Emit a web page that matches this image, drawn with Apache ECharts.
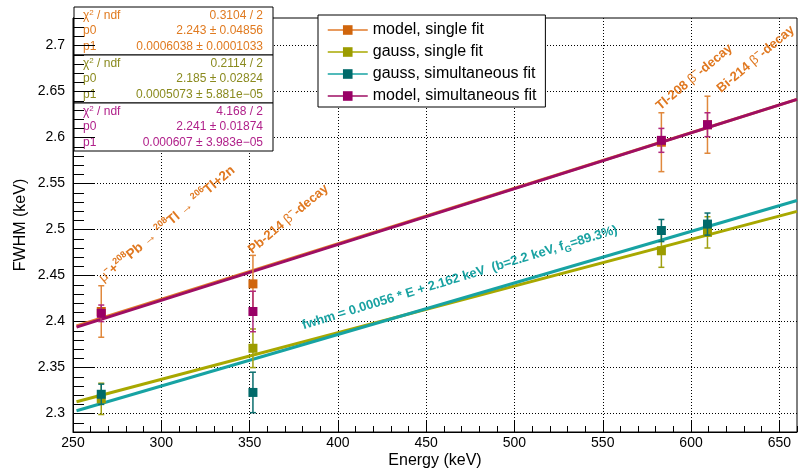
<!DOCTYPE html>
<html>
<head>
<meta charset="utf-8">
<script src="https://cdn.jsdelivr.net/npm/echarts@6/dist/echarts.min.js"></script>
<style>
html, body { margin: 0; padding: 0; background: #fff; }
#chart { width: 800px; height: 469px; }
</style>
</head>
<body>
<div id="chart"></div>
<script>
// ---- measured FWHM per gamma line ----
const energies = [266, 351.9, 583.2, 609.3];

const modelSingle    = [2.411, 2.441, 2.595, 2.614];
const modelSingleErr = [0.028, 0.031, 0.032, 0.031];
const gaussSingle    = [2.316, 2.371, 2.477, 2.497];
const gaussSingleErr = [0.017, 0.021, 0.018, 0.017];
const gaussSim       = [2.321, 2.323, 2.499, 2.506];
const gaussSimErr    = [0.011, 0.022, 0.012, 0.012];
const modelSim       = [2.409, 2.411, 2.597, 2.614];
const modelSimErr    = [0.009, 0.022, 0.013, 0.013];

const seriesNames = ['model, single fit', 'gauss, single fit', 'gauss, simultaneous fit', 'model, simultaneous fit'];

// ---- linear fits: fwhm = p0 + p1 * E ----
const fitP0    = [2.243, 2.185, 2.162, 2.241];
const fitP0Err = ['0.04856', '0.02824', null, '0.01874'];
const fitP1    = ['0.0006038', '0.0005073', '0.00056', '0.000607'];
const fitP1Err = ['0.0001033', '5.881e\u221205', null, '3.983e\u221205'];
const fitChi2  = ['0.3104 / 2', '0.2114 / 2', null, '4.168 / 2'];
const fitRange = [252, 660];

// ---- axes ----
const xRange = [250, 660];
const yRange = [2.28, 2.73];
const xTickValues = [250, 300, 350, 400, 450, 500, 550, 600, 650];
const yTickValues = [2.3, 2.35, 2.4, 2.45, 2.5, 2.55, 2.6, 2.65, 2.7];

// ---- annotations: anchor [energy, fwhm] ----
const lineLabels = [
  '{g|\u03bc}{s|\u2212}{b|+}{s|208}{b|Pb }{g|\u2192 }{s|208}{b|Tl }{g|\u2192 }{s|206}{b|Tl+2n}',
  '{b|Pb-214 }{g|\u03b2}{s|\u2212}{b|-decay}',
  '{b|Tl-208 }{g|\u03b2}{s|\u2212}{b|-decay}',
  '{b|Bi-214 }{g|\u03b2}{s|\u2212}{b|-decay}'
];
const lineLabelPos = [[269, 2.438], [353.5, 2.469], [584.5, 2.625], [619, 2.644]];
const fwhmLabel = '{b|fwhm = 0.00056 * E + 2.162 keV  (b=2.2 keV, f}{sub|G}{b|=89.3%)}';
const fwhmLabelPos = [381.5, 2.386];

const FONT = '"Liberation Sans", Arial, Helvetica, sans-serif';
const markerColors = ['#d0650c', '#9c9c00', '#006a6a', '#990066'];
const lineColors   = ['#e07a2a', '#a8a800', '#17a3a3', '#9e0e63'];
const errColors    = ['#e0883c', '#a0a010', '#0a6e6e', '#b0287c'];
const statColors   = ['#e07a1f', '#8a8a1e', null, '#b0208a'];

const values = [modelSingle, gaussSingle, gaussSim, modelSim];
const errors = [modelSingleErr, gaussSingleErr, gaussSimErr, modelSimErr];

const chart = echarts.init(document.getElementById('chart'), null, { renderer: 'canvas' });

function fitSeries(i) {
  const p0 = fitP0[i], p1 = parseFloat(fitP1[i]);
  return {
    name: seriesNames[i],
    type: 'line',
    data: fitRange.map(e => [e, p0 + p1 * e]),
    showSymbol: false,
    symbol: 'rect',
    symbolSize: 9,
    itemStyle: { color: markerColors[i] },
    lineStyle: { color: lineColors[i], width: 3 },
    silent: true,
    z: 2
  };
}

function errorSeries(i) {
  return {
    name: seriesNames[i] + ' errors',
    type: 'custom',
    data: energies.map((e, k) => [e, values[i][k] - errors[i][k], values[i][k] + errors[i][k]]),
    encode: { x: 0, y: [1, 2] },
    renderItem: (params, api) => {
      const e = api.value(0);
      const lo = api.coord([e, api.value(1)]);
      const hi = api.coord([e, api.value(2)]);
      const cap = 3;
      const style = { stroke: errColors[i], lineWidth: 1.5 };
      return {
        type: 'group',
        children: [
          { type: 'line', shape: { x1: lo[0], y1: lo[1], x2: hi[0], y2: hi[1] }, style },
          { type: 'line', shape: { x1: lo[0] - cap, y1: lo[1], x2: lo[0] + cap, y2: lo[1] }, style },
          { type: 'line', shape: { x1: hi[0] - cap, y1: hi[1], x2: hi[0] + cap, y2: hi[1] }, style }
        ]
      };
    },
    silent: true,
    z: 3 + i * 2
  };
}

function markerSeries(i) {
  return {
    name: seriesNames[i] + ' points',
    type: 'scatter',
    data: energies.map((e, k) => [e, values[i][k]]),
    symbol: 'rect',
    symbolSize: 9,
    itemStyle: { color: markerColors[i], opacity: 1 },
    silent: true,
    z: 4 + i * 2
  };
}

const series = [];
[0, 1, 2, 3].forEach(i => series.push(fitSeries(i)));
[0, 1, 2, 3].forEach(i => { series.push(errorSeries(i)); series.push(markerSeries(i)); });

const axisText = { color: '#000', fontSize: 14, fontFamily: FONT };
const gridLine = { show: true, lineStyle: { color: '#000', width: 1, type: [1, 2] } };

const option = {
  animation: false,
  backgroundColor: '#fff',
  grid: {
    left: 73, right: 3, top: 18, bottom: 37,
    containLabel: false, outerBoundsMode: 'none',
    show: true, borderColor: '#000', borderWidth: 1, backgroundColor: 'transparent'
  },
  xAxis: [
    {
      type: 'value', min: xRange[0], max: xRange[1], position: 'bottom',
      axisLine: { show: true, onZero: false, lineStyle: { color: '#000', width: 1 } },
      axisTick: { show: true, inside: true, length: 12, customValues: xTickValues, lineStyle: { color: '#000' } },
      axisLabel: Object.assign({ margin: 4, customValues: xTickValues }, axisText),
      splitLine: gridLine,
      name: 'Energy (keV)', nameLocation: 'middle', nameGap: 21, nameMoveOverlap: false,
      nameTextStyle: { color: '#000', fontSize: 16, fontFamily: FONT }
    },
    {
      type: 'value', min: xRange[0], max: xRange[1], interval: 10, position: 'bottom',
      axisLine: { show: false, onZero: false },
      axisTick: { show: true, inside: true, length: 6, lineStyle: { color: '#000' } },
      axisLabel: { show: false },
      splitLine: { show: false }
    }
  ],
  yAxis: [
    {
      type: 'value', min: yRange[0], max: yRange[1], position: 'left',
      axisLine: { show: true, onZero: false, lineStyle: { color: '#000', width: 1 } },
      axisTick: { show: true, inside: true, length: 22, customValues: yTickValues, lineStyle: { color: '#000' } },
      axisLabel: Object.assign({ margin: 8, customValues: yTickValues, formatter: v => String(+v.toFixed(2)) }, axisText),
      splitLine: gridLine,
      name: 'FWHM (keV)', nameLocation: 'middle', nameGap: 44, nameRotate: 90, nameMoveOverlap: false,
      nameTextStyle: { color: '#000', fontSize: 16, fontFamily: FONT }
    },
    {
      type: 'value', min: yRange[0], max: yRange[1], interval: 0.01, position: 'left',
      axisLine: { show: false, onZero: false },
      axisTick: { show: true, inside: true, length: 11, lineStyle: { color: '#000' } },
      axisLabel: { show: false },
      splitLine: { show: false }
    }
  ],
  legend: {
    data: seriesNames,
    orient: 'vertical',
    left: 318, top: 15,
    padding: [7, 9, 3, 9],
    itemGap: 6,
    itemWidth: 40,
    itemHeight: 12,
    backgroundColor: '#fff',
    borderColor: '#000',
    borderWidth: 1,
    borderRadius: 0,
    selectedMode: false,
    lineStyle: { width: 1.5 },
    textStyle: { color: '#000', fontSize: 16, fontFamily: FONT },
    z: 20
  },
  series: series
};

chart.setOption(option);

// ---- text placed from data coordinates, plus fit statistic boxes ----
function richStyle(color, size) {
  return {
    b: { fontSize: size, fontWeight: 'bold', fontFamily: FONT, fill: color, color: color, lineHeight: 18, verticalAlign: 'middle' },
    g: { fontSize: size, fontWeight: 'normal', fontFamily: FONT, fill: color, color: color, lineHeight: 18, verticalAlign: 'middle' },
    s: { fontSize: 9, fontWeight: 'bold', fontFamily: FONT, fill: color, color: color, lineHeight: 9, verticalAlign: 'top' },
    sub: { fontSize: 9, fontWeight: 'bold', fontFamily: FONT, fill: color, color: color, lineHeight: 9, verticalAlign: 'bottom' }
  };
}

const graphics = [];
lineLabels.forEach((txt, i) => {
  const p = chart.convertToPixel({ xAxisIndex: 0, yAxisIndex: 0 }, lineLabelPos[i]);
  graphics.push({
    type: 'text', x: p[0], y: p[1], rotation: 40 * Math.PI / 180, z: 30,
    style: { text: txt, rich: richStyle('#e07820', i === 0 ? 13.5 : 13), align: 'left', verticalAlign: 'bottom', fill: '#e07820' }
  });
});
{
  const p = chart.convertToPixel({ xAxisIndex: 0, yAxisIndex: 0 }, fwhmLabelPos);
  graphics.push({
    type: 'text', x: p[0], y: p[1], rotation: 17 * Math.PI / 180, z: 30,
    style: { text: fwhmLabel, rich: richStyle('#19a2a2', 13), align: 'left', verticalAlign: 'bottom', fill: '#19a2a2' }
  });
}

// statistic boxes for the three fits that carry them
const boxX = 74, boxW = 199, boxH = 48;
let boxY = 7;
[0, 1, 3].forEach(i => {
  const c = statColors[i];
  const rows = [
    ['{a|\u03c7}{s|2}{a| / ndf}', fitChi2[i]],
    ['{a|p0}', fitP0[i].toFixed(3) + ' \u00b1 ' + fitP0Err[i]],
    ['{a|p1}', fitP1[i] + ' \u00b1 ' + fitP1Err[i]]
  ];
  const children = [{
    type: 'rect', shape: { x: 0, y: 0, width: boxW, height: boxH },
    style: { fill: '#fff', stroke: '#000', lineWidth: 1 }
  }];
  rows.forEach((r, k) => {
    const yc = 8.5 + k * 15.5;
    children.push({
      type: 'text', x: 9, y: yc,
      style: {
        text: r[0], align: 'left', verticalAlign: 'middle',
        rich: {
          a: { fontSize: 12, fontFamily: FONT, fill: c, color: c, lineHeight: 14 },
          s: { fontSize: 8, fontFamily: FONT, fill: c, color: c, lineHeight: 8, verticalAlign: 'top' }
        }
      }
    });
    children.push({
      type: 'text', x: boxW - 10, y: yc,
      style: { text: r[1], align: 'right', verticalAlign: 'middle', fontSize: 12, fontFamily: FONT, fill: c }
    });
  });
  graphics.push({ type: 'group', x: boxX, y: boxY, z: 40, children });
  boxY += boxH;
});

chart.setOption({ graphic: graphics });
</script>
</body>
</html>
